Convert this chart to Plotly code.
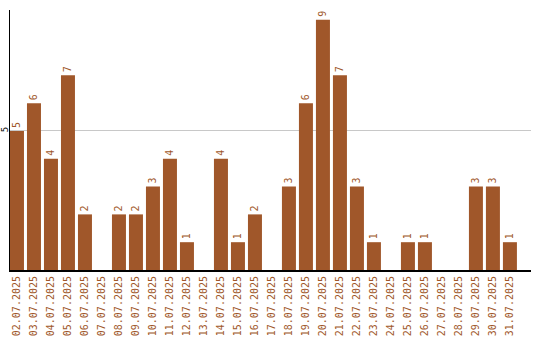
import plotly.graph_objects as go

dates = ["02.07.2025","03.07.2025","04.07.2025","05.07.2025","06.07.2025","07.07.2025",
         "08.07.2025","09.07.2025","10.07.2025","11.07.2025","12.07.2025","13.07.2025",
         "14.07.2025","15.07.2025","16.07.2025","17.07.2025","18.07.2025","19.07.2025",
         "20.07.2025","21.07.2025","22.07.2025","23.07.2025","24.07.2025","25.07.2025",
         "26.07.2025","27.07.2025","28.07.2025","29.07.2025","30.07.2025","31.07.2025"]
values = [5,6,4,7,2,0,2,2,3,4,1,0,4,1,2,0,3,6,9,7,3,1,0,1,1,0,0,3,3,1]
labels = [str(v) if v else "" for v in values]

color = "#A0572A"
font = "DejaVu Sans Mono"

fig = go.Figure(go.Bar(
    x=dates, y=values, text=labels, textposition="outside", textangle=-90,
    textfont=dict(family=font, size=10, color=color),
    marker=dict(color=color, line=dict(width=0)),
    width=14/17, cliponaxis=False,
))
fig.update_layout(
    width=540, height=340, margin=dict(l=10, r=9, t=10, b=70),
    paper_bgcolor="white", plot_bgcolor="white", showlegend=False,
    xaxis=dict(type="category", range=[-0.41, 30.24], tickangle=-90, automargin=False,
               tickfont=dict(family=font, size=10, color=color),
               showline=True, linecolor="black", linewidth=2, showgrid=False,
               ticks="", ticklen=0),
    yaxis=dict(range=[0, 9.35], tickvals=[5], ticktext=["5"], tickangle=-90, automargin=False,
               tickfont=dict(family=font, size=9, color="black"), ticklabelstandoff=-3,
               showline=True, linecolor="black", linewidth=1,
               showgrid=True, gridcolor="#c8c8c8", gridwidth=1, zeroline=False,
               ticks="", ticklen=0),
)
fig.write_html("out.html")
